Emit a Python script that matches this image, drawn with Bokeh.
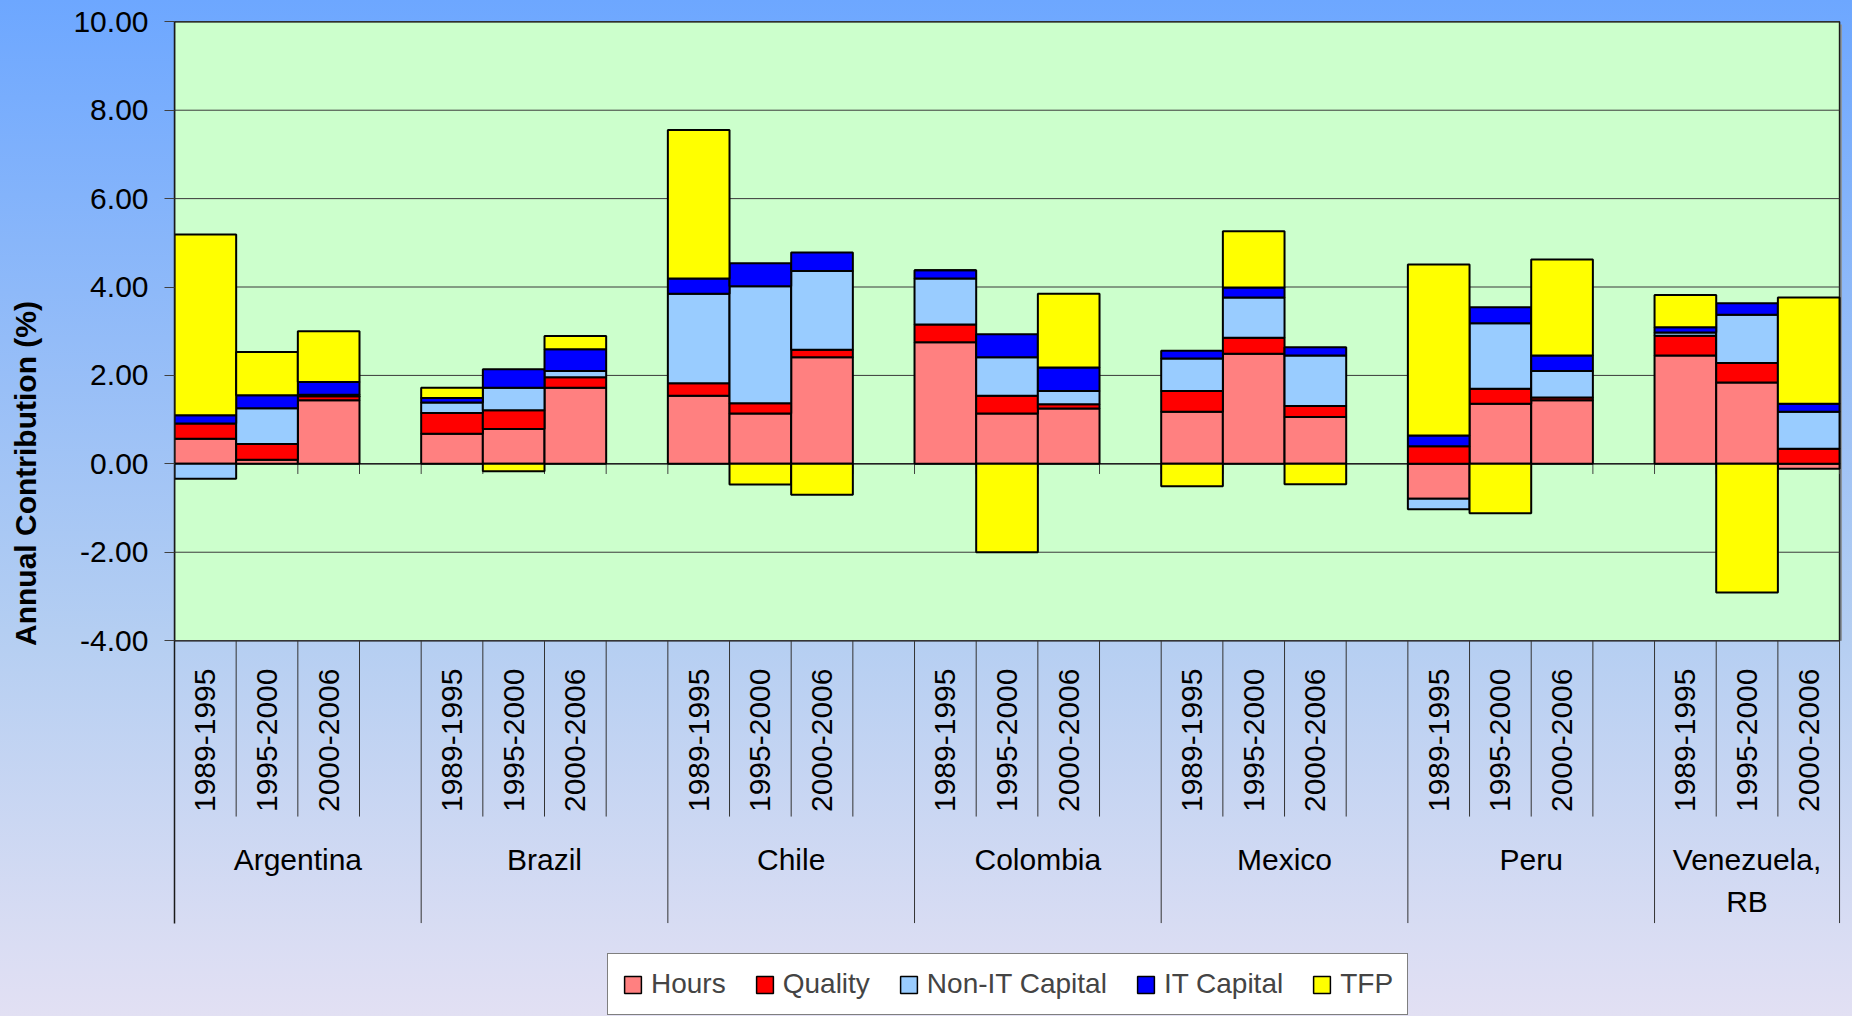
import math
from bokeh.plotting import figure
from bokeh.layouts import column
from bokeh.models import (ColumnDataSource, Range1d, FixedTicker, PrintfTickFormatter,
                          Legend, LegendItem)
from bokeh.core.properties import value
from bokeh.embed import file_html
from bokeh.resources import INLINE

# ---------------- data ----------------
countries = ["Argentina", "Brazil", "Chile", "Colombia", "Mexico", "Peru", "Venezuela,\nRB"]
periods = ["1989-1995", "1995-2000", "2000-2006"]
series_names = ["Hours", "Quality", "Non-IT Capital", "IT Capital", "TFP"]

hours   = [0.57, 0.09, 1.44,   0.68, 0.79, 1.72,   1.54, 1.14, 2.41,   2.75, 1.14, 1.25,
           1.18, 2.49, 1.06,  -0.79, 1.36, 1.44,   2.45, 1.84, -0.11]
quality = [0.34, 0.36, 0.09,   0.47, 0.42, 0.24,   0.28, 0.23, 0.17,   0.40, 0.40, 0.10,
           0.47, 0.36, 0.25,   0.40, 0.34, 0.06,   0.45, 0.44, 0.34]
non_it  = [-0.34, 0.81, 0.03,  0.24, 0.51, 0.14,   2.03, 2.65, 1.78,   1.04, 0.87, 0.30,
           0.73, 0.91, 1.14,  -0.24, 1.48, 0.60,   0.07, 1.09, 0.84]
it_cap  = [0.19, 0.29, 0.29,   0.10, 0.42, 0.49,   0.34, 0.52, 0.42,   0.19, 0.52, 0.53,
           0.18, 0.23, 0.19,   0.24, 0.36, 0.35,   0.12, 0.26, 0.18]
tfp     = [4.09, 0.98, 1.15,   0.23, -0.17, 0.30,  3.36, -0.47, -0.70,  0.00, -2.00, 1.67,
           -0.51, 1.27, -0.46,  3.87, -1.12, 2.17,  0.73, -2.91, 2.40]

y_ticks = [-4, -2, 0, 2, 4, 6, 8, 10]

colors = ["#FF8080", "#FF0000", "#99CCFF", "#0000FF", "#FFFF00"]
FONT = "Liberation Sans"

# ---------------- layout helpers ----------------
n_c, n_p = len(countries), len(periods)
per_group = n_p + 1
n_slots = n_c * per_group - 1
y_lo, y_hi = y_ticks[0], y_ticks[-1]
SEP_SHORT = -7.98
SEP_LONG = -10.39

slot_left = []
for c in range(n_c):
    for j in range(n_p):
        slot_left.append(c * per_group + j)

# Excel-style stacking: positives up, negatives down
all_series = [hours, quality, non_it, it_cap, tfp]
pos = [0.0] * len(slot_left)
neg = [0.0] * len(slot_left)
stacks = []
for s in all_series:
    bot, top = [], []
    for k, v in enumerate(s):
        if v >= 0:
            bot.append(pos[k]); top.append(pos[k] + v); pos[k] += v
        else:
            top.append(neg[k]); bot.append(neg[k] + v); neg[k] += v
    stacks.append((bot, top))

p = figure(width=1852, height=946,
           x_range=Range1d(0, 27.21), y_range=Range1d(-10.92, 10.482),
           x_axis_type=None, output_backend="svg", toolbar_location=None,
           min_border=0, min_border_left=174)
p.title = None
p.background_fill_color = None
p.border_fill_color = None
p.outline_line_color = None
p.ygrid.visible = False
p.styles = {"background-image": "linear-gradient(180deg, #6DA7FF 0%, #B4CEF2 66.6%, #DADDF3 100%)"}

# plot-area shadow and fill
p.quad(left=[n_slots], right=[n_slots + 0.04], bottom=[y_lo], top=[y_hi - 0.06],
       fill_color="#8C96A0", line_color=None)
p.quad(left=[0], right=[n_slots], bottom=[y_lo], top=[y_hi],
       fill_color="#CCFFCC", line_color="#1a1a1a", line_width=1.5)

# gridlines
p.segment(x0=[0] * len(y_ticks), x1=[n_slots] * len(y_ticks), y0=y_ticks, y1=y_ticks,
          line_color="#3a3a3a", line_width=1)

# category axis at zero with tick marks
bounds = list(range(n_slots + 1))
p.segment(x0=[0], x1=[n_slots], y0=[0], y1=[0], line_color="#222222", line_width=1.5)
p.segment(x0=bounds, x1=bounds, y0=[0] * len(bounds), y1=[-0.23] * len(bounds),
          line_color="#404040", line_width=1)

# bars
for name, col, (bot, top) in zip(series_names, colors, stacks):
    src = ColumnDataSource(dict(left=slot_left, right=[x + 1 for x in slot_left],
                                bottom=bot, top=top))
    p.quad(left="left", right="right", bottom="bottom", top="top", source=src,
           fill_color=col, line_color="black", line_width=2)

# separators in label area
long_b = [b for b in bounds[1:] if b % per_group == 0] + [n_slots]
short_b = [b for b in bounds[1:n_slots] if b % per_group != 0]
p.segment(x0=long_b, x1=long_b, y0=[y_lo] * len(long_b), y1=[SEP_LONG] * len(long_b),
          line_color="#333333", line_width=1)
p.segment(x0=short_b, x1=short_b, y0=[y_lo] * len(short_b), y1=[SEP_SHORT] * len(short_b),
          line_color="#333333", line_width=1)

# period labels
p.text(x=[x + 0.5 for x in slot_left], y=[-4.632] * len(slot_left),
       text=periods * n_c, angle=math.pi / 2, text_align="right", text_baseline="middle",
       text_font=value(FONT), text_font_size="30px", text_color="black")

# country labels
cx = []
for c in range(n_c):
    s = c * per_group
    e = min(s + per_group, n_slots)
    cx.append((s + e) / 2)
p.text(x=cx, y=[-8.568] * n_c, text=countries, text_align="center", text_baseline="top",
       text_font=value(FONT), text_font_size="30px", text_color="black", text_line_height=1.3)

# y axis
ya = p.yaxis[0]
ya.ticker = FixedTicker(ticks=y_ticks)
ya.formatter = PrintfTickFormatter(format="%.2f")
ya.bounds = (SEP_LONG, y_hi)
ya.axis_line_color = "#1a1a1a"
ya.axis_line_width = 1.5
ya.major_tick_out = 10
ya.major_tick_in = 0
ya.major_tick_line_color = "#404040"
ya.minor_tick_line_color = None
ya.major_label_standoff = 16
ya.major_label_text_font = FONT
ya.major_label_text_font_size = "30px"
ya.major_label_text_color = "black"
ya.axis_label = "Annual Contribution (%)"
ya.axis_label_text_font = FONT
ya.axis_label_text_font_size = "30px"
ya.axis_label_text_font_style = "bold"
ya.axis_label_text_color = "black"
ya.axis_label_standoff = 28

# ---------------- legend strip ----------------
pl = figure(width=1852, height=70, x_range=Range1d(0, 1), y_range=Range1d(0, 1),
            x_axis_type=None, y_axis_type=None, output_backend="svg", toolbar_location=None,
            min_border=0)
pl.title = None
pl.background_fill_color = None
pl.border_fill_color = None
pl.outline_line_color = None
pl.styles = {"background-image": "linear-gradient(180deg, #DADDF3 0%, #E2E0F3 100%)"}
leg_r = []
for col in colors:
    # placeholder glyph lying outside the visible range; only its legend swatch shows
    leg_r.append(pl.quad(left=[5], right=[6], bottom=[5], top=[6], fill_color=col,
                         line_color="black", line_width=1.5))
legend = Legend(items=[LegendItem(label=n, renderers=[r]) for n, r in zip(series_names, leg_r)],
                orientation="horizontal", location=(433, 1),
                label_text_font=FONT, label_text_font_size="28px",
                glyph_width=21, glyph_height=21, label_standoff=8, spacing=28,
                padding=14, margin=0, border_line_color="black", border_line_width=1.5,
                background_fill_color="white", background_fill_alpha=1.0)
pl.add_layout(legend)

layout = column(p, pl, spacing=0)
open("out.html", "w").write(file_html(layout, INLINE))
